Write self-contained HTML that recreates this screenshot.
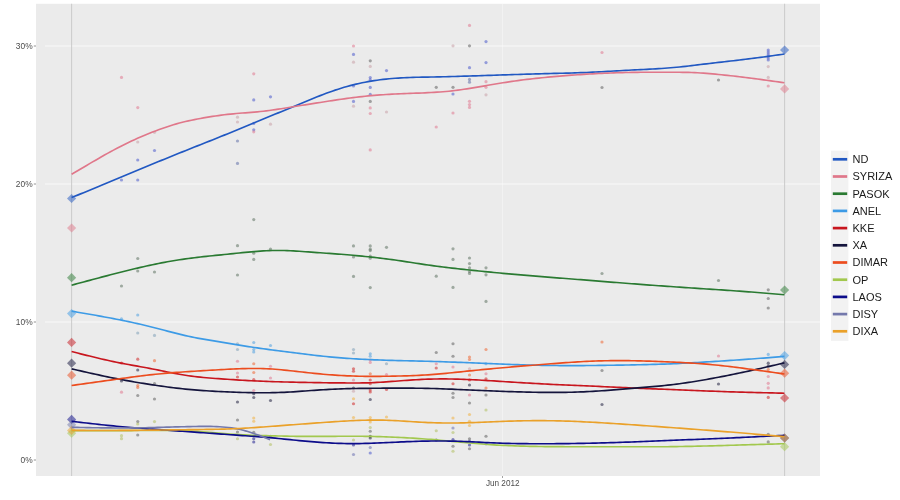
<!DOCTYPE html>
<html><head><meta charset="utf-8"><style>
html,body{margin:0;padding:0;background:#fff;width:900px;height:500px;overflow:hidden}
svg{display:block;filter:blur(0.35px);font-family:"Liberation Sans",sans-serif}
</style></head><body>
<svg width="900" height="500" viewBox="0 0 900 500">
<rect x="36" y="3.8" width="784" height="472.2" fill="#EBEBEB"/>
<line x1="45" x2="820" y1="322.0" y2="322.0" stroke="#FFFFFF" stroke-opacity="0.75" stroke-width="1"/>
<line x1="45" x2="820" y1="184.0" y2="184.0" stroke="#FFFFFF" stroke-opacity="0.75" stroke-width="1"/>
<line x1="45" x2="820" y1="46.0" y2="46.0" stroke="#FFFFFF" stroke-opacity="0.75" stroke-width="1"/>
<line x1="502.5" x2="502.5" y1="3.8" y2="476" stroke="#FFFFFF" stroke-opacity="0.35" stroke-width="1"/>
<line x1="71.6" x2="71.6" y1="3.8" y2="476" stroke="#CDCDCD" stroke-width="1.1"/>
<line x1="784.6" x2="784.6" y1="3.8" y2="476" stroke="#CDCDCD" stroke-width="1.1"/>
<g id="dots"><circle cx="121.5" cy="77.4" r="1.6" fill="#E07890" fill-opacity="0.55"/>
<circle cx="121.5" cy="180.0" r="1.6" fill="#4A5ACC" fill-opacity="0.55"/>
<circle cx="121.5" cy="286.0" r="1.6" fill="#5F7263" fill-opacity="0.55"/>
<circle cx="121.5" cy="318.9" r="1.6" fill="#50A0E0" fill-opacity="0.55"/>
<circle cx="121.5" cy="363.0" r="1.6" fill="#D02828" fill-opacity="0.55"/>
<circle cx="121.5" cy="381.0" r="1.6" fill="#202040" fill-opacity="0.55"/>
<circle cx="121.5" cy="392.2" r="1.6" fill="#E07890" fill-opacity="0.55"/>
<circle cx="121.5" cy="435.7" r="1.6" fill="#B0C060" fill-opacity="0.55"/>
<circle cx="121.5" cy="438.7" r="1.6" fill="#B0C060" fill-opacity="0.55"/>
<circle cx="137.75" cy="107.6" r="1.6" fill="#E07890" fill-opacity="0.55"/>
<circle cx="137.75" cy="142.0" r="1.6" fill="#C8A0A8" fill-opacity="0.55"/>
<circle cx="137.75" cy="160.0" r="1.6" fill="#4A5ACC" fill-opacity="0.55"/>
<circle cx="137.75" cy="180.0" r="1.6" fill="#4A5ACC" fill-opacity="0.55"/>
<circle cx="137.75" cy="258.5" r="1.6" fill="#5F7263" fill-opacity="0.55"/>
<circle cx="137.75" cy="271.0" r="1.6" fill="#5F7263" fill-opacity="0.55"/>
<circle cx="137.75" cy="315.0" r="1.6" fill="#50A0E0" fill-opacity="0.55"/>
<circle cx="137.75" cy="333.0" r="1.6" fill="#80A0B8" fill-opacity="0.55"/>
<circle cx="137.75" cy="359.2" r="1.6" fill="#D02828" fill-opacity="0.55"/>
<circle cx="137.75" cy="370.0" r="1.6" fill="#202040" fill-opacity="0.55"/>
<circle cx="137.75" cy="385.6" r="1.6" fill="#EE6633" fill-opacity="0.55"/>
<circle cx="137.75" cy="387.5" r="1.6" fill="#EE6633" fill-opacity="0.55"/>
<circle cx="137.75" cy="395.5" r="1.6" fill="#606060" fill-opacity="0.55"/>
<circle cx="137.75" cy="421.6" r="1.6" fill="#606060" fill-opacity="0.55"/>
<circle cx="137.75" cy="424.0" r="1.6" fill="#B0C060" fill-opacity="0.55"/>
<circle cx="137.75" cy="435.0" r="1.6" fill="#606060" fill-opacity="0.55"/>
<circle cx="154.5" cy="132.3" r="1.6" fill="#C8A0A8" fill-opacity="0.55"/>
<circle cx="154.5" cy="150.5" r="1.6" fill="#4A5ACC" fill-opacity="0.55"/>
<circle cx="154.5" cy="272.0" r="1.6" fill="#5F7263" fill-opacity="0.55"/>
<circle cx="154.5" cy="335.4" r="1.6" fill="#80A0B8" fill-opacity="0.55"/>
<circle cx="154.5" cy="360.7" r="1.6" fill="#EE6633" fill-opacity="0.55"/>
<circle cx="154.5" cy="383.5" r="1.6" fill="#606060" fill-opacity="0.55"/>
<circle cx="154.5" cy="399.0" r="1.6" fill="#606060" fill-opacity="0.55"/>
<circle cx="154.5" cy="421.6" r="1.6" fill="#B0C060" fill-opacity="0.55"/>
<circle cx="237.5" cy="117.2" r="1.6" fill="#C8A0A8" fill-opacity="0.55"/>
<circle cx="237.5" cy="122.0" r="1.6" fill="#C8A0A8" fill-opacity="0.55"/>
<circle cx="237.5" cy="141.0" r="1.6" fill="#6070A8" fill-opacity="0.55"/>
<circle cx="237.5" cy="163.4" r="1.6" fill="#6070A8" fill-opacity="0.55"/>
<circle cx="237.5" cy="245.7" r="1.6" fill="#5F7263" fill-opacity="0.55"/>
<circle cx="237.5" cy="275.0" r="1.6" fill="#5F7263" fill-opacity="0.55"/>
<circle cx="237.5" cy="343.75" r="1.6" fill="#80A0B8" fill-opacity="0.55"/>
<circle cx="237.5" cy="349.5" r="1.6" fill="#80A0B8" fill-opacity="0.55"/>
<circle cx="237.5" cy="361.25" r="1.6" fill="#E07890" fill-opacity="0.55"/>
<circle cx="237.5" cy="373.0" r="1.6" fill="#E07890" fill-opacity="0.55"/>
<circle cx="237.5" cy="377.0" r="1.6" fill="#D02828" fill-opacity="0.55"/>
<circle cx="237.5" cy="402.0" r="1.6" fill="#202040" fill-opacity="0.55"/>
<circle cx="237.5" cy="420.0" r="1.6" fill="#606060" fill-opacity="0.55"/>
<circle cx="237.5" cy="432.0" r="1.6" fill="#606060" fill-opacity="0.55"/>
<circle cx="237.5" cy="438.75" r="1.6" fill="#B0C060" fill-opacity="0.55"/>
<circle cx="253.75" cy="73.8" r="1.6" fill="#E07890" fill-opacity="0.55"/>
<circle cx="253.75" cy="99.9" r="1.6" fill="#4A5ACC" fill-opacity="0.55"/>
<circle cx="253.75" cy="123.4" r="1.6" fill="#4A5ACC" fill-opacity="0.55"/>
<circle cx="253.75" cy="129.8" r="1.6" fill="#4A5ACC" fill-opacity="0.55"/>
<circle cx="253.75" cy="131.8" r="1.6" fill="#E07890" fill-opacity="0.55"/>
<circle cx="253.75" cy="219.6" r="1.6" fill="#5F7263" fill-opacity="0.55"/>
<circle cx="253.75" cy="253.2" r="1.6" fill="#5F7263" fill-opacity="0.55"/>
<circle cx="253.75" cy="259.4" r="1.6" fill="#5F7263" fill-opacity="0.55"/>
<circle cx="253.75" cy="342.5" r="1.6" fill="#50A0E0" fill-opacity="0.55"/>
<circle cx="253.75" cy="349.5" r="1.6" fill="#50A0E0" fill-opacity="0.55"/>
<circle cx="253.75" cy="352.0" r="1.6" fill="#50A0E0" fill-opacity="0.55"/>
<circle cx="253.75" cy="363.75" r="1.6" fill="#EE6633" fill-opacity="0.55"/>
<circle cx="253.75" cy="372.5" r="1.6" fill="#EE6633" fill-opacity="0.55"/>
<circle cx="253.75" cy="379.5" r="1.6" fill="#D02828" fill-opacity="0.55"/>
<circle cx="253.75" cy="390.5" r="1.6" fill="#E07890" fill-opacity="0.55"/>
<circle cx="253.75" cy="393.75" r="1.6" fill="#202040" fill-opacity="0.55"/>
<circle cx="253.75" cy="397.5" r="1.6" fill="#202040" fill-opacity="0.55"/>
<circle cx="253.75" cy="418.0" r="1.6" fill="#F0B040" fill-opacity="0.55"/>
<circle cx="253.75" cy="421.25" r="1.6" fill="#F0B040" fill-opacity="0.55"/>
<circle cx="253.75" cy="432.25" r="1.6" fill="#606060" fill-opacity="0.55"/>
<circle cx="253.75" cy="438.75" r="1.6" fill="#202090" fill-opacity="0.55"/>
<circle cx="253.75" cy="442.0" r="1.6" fill="#202090" fill-opacity="0.55"/>
<circle cx="270.5" cy="96.8" r="1.6" fill="#4A5ACC" fill-opacity="0.55"/>
<circle cx="270.5" cy="124.2" r="1.6" fill="#C8A0A8" fill-opacity="0.55"/>
<circle cx="270.5" cy="249.0" r="1.6" fill="#5F7263" fill-opacity="0.55"/>
<circle cx="270.5" cy="345.5" r="1.6" fill="#50A0E0" fill-opacity="0.55"/>
<circle cx="270.5" cy="366.25" r="1.6" fill="#E07890" fill-opacity="0.55"/>
<circle cx="270.5" cy="378.0" r="1.6" fill="#E07890" fill-opacity="0.55"/>
<circle cx="270.5" cy="400.5" r="1.6" fill="#202040" fill-opacity="0.55"/>
<circle cx="270.5" cy="436.25" r="1.6" fill="#606060" fill-opacity="0.55"/>
<circle cx="270.5" cy="444.5" r="1.6" fill="#B0C060" fill-opacity="0.55"/>
<circle cx="353.5" cy="46.0" r="1.6" fill="#E07890" fill-opacity="0.55"/>
<circle cx="353.5" cy="54.4" r="1.6" fill="#4A5ACC" fill-opacity="0.55"/>
<circle cx="353.5" cy="62.2" r="1.6" fill="#C8A0A8" fill-opacity="0.55"/>
<circle cx="353.5" cy="86.0" r="1.6" fill="#4A5ACC" fill-opacity="0.55"/>
<circle cx="353.5" cy="101.4" r="1.6" fill="#4A5ACC" fill-opacity="0.55"/>
<circle cx="353.5" cy="106.2" r="1.6" fill="#C8A0A8" fill-opacity="0.55"/>
<circle cx="353.5" cy="245.9" r="1.6" fill="#5F7263" fill-opacity="0.55"/>
<circle cx="353.5" cy="257.0" r="1.6" fill="#5F7263" fill-opacity="0.55"/>
<circle cx="353.5" cy="276.4" r="1.6" fill="#5F7263" fill-opacity="0.55"/>
<circle cx="353.5" cy="349.5" r="1.6" fill="#80A0B8" fill-opacity="0.55"/>
<circle cx="353.5" cy="353.0" r="1.6" fill="#80A0B8" fill-opacity="0.55"/>
<circle cx="353.5" cy="368.75" r="1.6" fill="#D02828" fill-opacity="0.55"/>
<circle cx="353.5" cy="371.25" r="1.6" fill="#D02828" fill-opacity="0.55"/>
<circle cx="353.5" cy="380.0" r="1.6" fill="#E07890" fill-opacity="0.55"/>
<circle cx="353.5" cy="388.0" r="1.6" fill="#202040" fill-opacity="0.55"/>
<circle cx="353.5" cy="391.25" r="1.6" fill="#C8A0A8" fill-opacity="0.55"/>
<circle cx="353.5" cy="398.75" r="1.6" fill="#F0B040" fill-opacity="0.55"/>
<circle cx="353.5" cy="403.75" r="1.6" fill="#D02828" fill-opacity="0.55"/>
<circle cx="353.5" cy="417.5" r="1.6" fill="#F0B040" fill-opacity="0.55"/>
<circle cx="353.5" cy="440.0" r="1.6" fill="#B0C060" fill-opacity="0.55"/>
<circle cx="353.5" cy="445.0" r="1.6" fill="#202090" fill-opacity="0.55"/>
<circle cx="353.5" cy="454.5" r="1.6" fill="#6A70B0" fill-opacity="0.55"/>
<circle cx="370.25" cy="60.8" r="1.6" fill="#606060" fill-opacity="0.55"/>
<circle cx="370.25" cy="66.4" r="1.6" fill="#C8A0A8" fill-opacity="0.55"/>
<circle cx="370.25" cy="77.6" r="1.6" fill="#4A5ACC" fill-opacity="0.55"/>
<circle cx="370.25" cy="79.9" r="1.6" fill="#4A5ACC" fill-opacity="0.55"/>
<circle cx="370.25" cy="87.4" r="1.6" fill="#4A5ACC" fill-opacity="0.55"/>
<circle cx="370.25" cy="94.4" r="1.6" fill="#4A5ACC" fill-opacity="0.55"/>
<circle cx="370.25" cy="101.4" r="1.6" fill="#606060" fill-opacity="0.55"/>
<circle cx="370.25" cy="107.9" r="1.6" fill="#E07890" fill-opacity="0.55"/>
<circle cx="370.25" cy="113.5" r="1.6" fill="#E07890" fill-opacity="0.55"/>
<circle cx="370.25" cy="149.9" r="1.6" fill="#E07890" fill-opacity="0.55"/>
<circle cx="370.25" cy="245.9" r="1.6" fill="#5F7263" fill-opacity="0.55"/>
<circle cx="370.25" cy="249.2" r="1.6" fill="#5F7263" fill-opacity="0.55"/>
<circle cx="370.25" cy="250.6" r="1.6" fill="#5F7263" fill-opacity="0.55"/>
<circle cx="370.25" cy="256.2" r="1.6" fill="#5F7263" fill-opacity="0.55"/>
<circle cx="370.25" cy="258.2" r="1.6" fill="#5F7263" fill-opacity="0.55"/>
<circle cx="370.25" cy="287.6" r="1.6" fill="#5F7263" fill-opacity="0.55"/>
<circle cx="370.25" cy="353.75" r="1.6" fill="#50A0E0" fill-opacity="0.55"/>
<circle cx="370.25" cy="356.25" r="1.6" fill="#50A0E0" fill-opacity="0.55"/>
<circle cx="370.25" cy="360.0" r="1.6" fill="#E07890" fill-opacity="0.55"/>
<circle cx="370.25" cy="362.5" r="1.6" fill="#E07890" fill-opacity="0.55"/>
<circle cx="370.25" cy="373.75" r="1.6" fill="#EE6633" fill-opacity="0.55"/>
<circle cx="370.25" cy="380.0" r="1.6" fill="#D02828" fill-opacity="0.55"/>
<circle cx="370.25" cy="383.75" r="1.6" fill="#D02828" fill-opacity="0.55"/>
<circle cx="370.25" cy="390.0" r="1.6" fill="#D02828" fill-opacity="0.55"/>
<circle cx="370.25" cy="392.0" r="1.6" fill="#D02828" fill-opacity="0.55"/>
<circle cx="370.25" cy="399.5" r="1.6" fill="#202040" fill-opacity="0.55"/>
<circle cx="370.25" cy="417.5" r="1.6" fill="#F0B040" fill-opacity="0.55"/>
<circle cx="370.25" cy="420.0" r="1.6" fill="#F0B040" fill-opacity="0.55"/>
<circle cx="370.25" cy="422.0" r="1.6" fill="#F0B040" fill-opacity="0.55"/>
<circle cx="370.25" cy="427.5" r="1.6" fill="#B0C060" fill-opacity="0.55"/>
<circle cx="370.25" cy="431.25" r="1.6" fill="#606060" fill-opacity="0.55"/>
<circle cx="370.25" cy="436.25" r="1.6" fill="#202040" fill-opacity="0.55"/>
<circle cx="370.25" cy="438.0" r="1.6" fill="#202040" fill-opacity="0.55"/>
<circle cx="370.25" cy="447.5" r="1.6" fill="#6A70B0" fill-opacity="0.55"/>
<circle cx="370.25" cy="453.0" r="1.6" fill="#4A5ACC" fill-opacity="0.55"/>
<circle cx="386.5" cy="70.6" r="1.6" fill="#4A5ACC" fill-opacity="0.55"/>
<circle cx="386.5" cy="112.0" r="1.6" fill="#C8A0A8" fill-opacity="0.55"/>
<circle cx="386.5" cy="247.3" r="1.6" fill="#5F7263" fill-opacity="0.55"/>
<circle cx="386.5" cy="363.75" r="1.6" fill="#80A0B8" fill-opacity="0.55"/>
<circle cx="386.5" cy="374.5" r="1.6" fill="#E07890" fill-opacity="0.55"/>
<circle cx="386.5" cy="389.5" r="1.6" fill="#D02828" fill-opacity="0.55"/>
<circle cx="386.5" cy="417.0" r="1.6" fill="#F0B040" fill-opacity="0.55"/>
<circle cx="436.25" cy="87.3" r="1.6" fill="#606060" fill-opacity="0.55"/>
<circle cx="436.25" cy="127.0" r="1.6" fill="#E07890" fill-opacity="0.55"/>
<circle cx="436.25" cy="276.2" r="1.6" fill="#5F7263" fill-opacity="0.55"/>
<circle cx="436.25" cy="352.5" r="1.6" fill="#606060" fill-opacity="0.55"/>
<circle cx="436.25" cy="363.75" r="1.6" fill="#E07890" fill-opacity="0.55"/>
<circle cx="436.25" cy="368.0" r="1.6" fill="#D02828" fill-opacity="0.55"/>
<circle cx="436.25" cy="430.75" r="1.6" fill="#B0C060" fill-opacity="0.55"/>
<circle cx="436.25" cy="440.0" r="1.6" fill="#202040" fill-opacity="0.55"/>
<circle cx="453.0" cy="45.8" r="1.6" fill="#C8A0A8" fill-opacity="0.55"/>
<circle cx="453.0" cy="87.3" r="1.6" fill="#606060" fill-opacity="0.55"/>
<circle cx="453.0" cy="94.0" r="1.6" fill="#4A5ACC" fill-opacity="0.55"/>
<circle cx="453.0" cy="113.0" r="1.6" fill="#E07890" fill-opacity="0.55"/>
<circle cx="453.0" cy="248.8" r="1.6" fill="#5F7263" fill-opacity="0.55"/>
<circle cx="453.0" cy="259.4" r="1.6" fill="#5F7263" fill-opacity="0.55"/>
<circle cx="453.0" cy="287.4" r="1.6" fill="#5F7263" fill-opacity="0.55"/>
<circle cx="453.0" cy="343.75" r="1.6" fill="#606060" fill-opacity="0.55"/>
<circle cx="453.0" cy="356.25" r="1.6" fill="#606060" fill-opacity="0.55"/>
<circle cx="453.0" cy="367.0" r="1.6" fill="#E07890" fill-opacity="0.55"/>
<circle cx="453.0" cy="383.75" r="1.6" fill="#D02828" fill-opacity="0.55"/>
<circle cx="453.0" cy="393.25" r="1.6" fill="#606060" fill-opacity="0.55"/>
<circle cx="453.0" cy="397.5" r="1.6" fill="#606060" fill-opacity="0.55"/>
<circle cx="453.0" cy="418.0" r="1.6" fill="#F0B040" fill-opacity="0.55"/>
<circle cx="453.0" cy="428.0" r="1.6" fill="#6A70B0" fill-opacity="0.55"/>
<circle cx="453.0" cy="432.5" r="1.6" fill="#B0C060" fill-opacity="0.55"/>
<circle cx="453.0" cy="439.5" r="1.6" fill="#202090" fill-opacity="0.55"/>
<circle cx="453.0" cy="446.25" r="1.6" fill="#606060" fill-opacity="0.55"/>
<circle cx="453.0" cy="451.25" r="1.6" fill="#B0C060" fill-opacity="0.55"/>
<circle cx="469.5" cy="25.4" r="1.6" fill="#E07890" fill-opacity="0.55"/>
<circle cx="469.5" cy="45.8" r="1.6" fill="#606060" fill-opacity="0.55"/>
<circle cx="469.5" cy="67.7" r="1.6" fill="#4A5ACC" fill-opacity="0.55"/>
<circle cx="469.5" cy="79.4" r="1.6" fill="#6070A8" fill-opacity="0.55"/>
<circle cx="469.5" cy="82.2" r="1.6" fill="#6070A8" fill-opacity="0.55"/>
<circle cx="469.5" cy="101.3" r="1.6" fill="#E07890" fill-opacity="0.55"/>
<circle cx="469.5" cy="104.6" r="1.6" fill="#E07890" fill-opacity="0.55"/>
<circle cx="469.5" cy="107.4" r="1.6" fill="#E07890" fill-opacity="0.55"/>
<circle cx="469.5" cy="258.0" r="1.6" fill="#5F7263" fill-opacity="0.55"/>
<circle cx="469.5" cy="263.6" r="1.6" fill="#5F7263" fill-opacity="0.55"/>
<circle cx="469.5" cy="267.8" r="1.6" fill="#5F7263" fill-opacity="0.55"/>
<circle cx="469.5" cy="271.5" r="1.6" fill="#5F7263" fill-opacity="0.55"/>
<circle cx="469.5" cy="273.4" r="1.6" fill="#5F7263" fill-opacity="0.55"/>
<circle cx="469.5" cy="357.0" r="1.6" fill="#EE6633" fill-opacity="0.55"/>
<circle cx="469.5" cy="359.5" r="1.6" fill="#EE6633" fill-opacity="0.55"/>
<circle cx="469.5" cy="368.75" r="1.6" fill="#C8A0A8" fill-opacity="0.55"/>
<circle cx="469.5" cy="375.0" r="1.6" fill="#EE6633" fill-opacity="0.55"/>
<circle cx="469.5" cy="380.0" r="1.6" fill="#D02828" fill-opacity="0.55"/>
<circle cx="469.5" cy="385.0" r="1.6" fill="#202040" fill-opacity="0.55"/>
<circle cx="469.5" cy="395.0" r="1.6" fill="#E07890" fill-opacity="0.55"/>
<circle cx="469.5" cy="403.0" r="1.6" fill="#606060" fill-opacity="0.55"/>
<circle cx="469.5" cy="414.5" r="1.6" fill="#F0B040" fill-opacity="0.55"/>
<circle cx="469.5" cy="421.25" r="1.6" fill="#F0B040" fill-opacity="0.55"/>
<circle cx="469.5" cy="425.5" r="1.6" fill="#F0B040" fill-opacity="0.55"/>
<circle cx="469.5" cy="438.75" r="1.6" fill="#606060" fill-opacity="0.55"/>
<circle cx="469.5" cy="441.25" r="1.6" fill="#202090" fill-opacity="0.55"/>
<circle cx="469.5" cy="445.0" r="1.6" fill="#202090" fill-opacity="0.55"/>
<circle cx="469.5" cy="448.75" r="1.6" fill="#606060" fill-opacity="0.55"/>
<circle cx="486.0" cy="41.6" r="1.6" fill="#4A5ACC" fill-opacity="0.55"/>
<circle cx="486.0" cy="62.6" r="1.6" fill="#4A5ACC" fill-opacity="0.55"/>
<circle cx="486.0" cy="81.7" r="1.6" fill="#E07890" fill-opacity="0.55"/>
<circle cx="486.0" cy="87.3" r="1.6" fill="#E07890" fill-opacity="0.55"/>
<circle cx="486.0" cy="94.8" r="1.6" fill="#C8A0A8" fill-opacity="0.55"/>
<circle cx="486.0" cy="267.8" r="1.6" fill="#5F7263" fill-opacity="0.55"/>
<circle cx="486.0" cy="274.8" r="1.6" fill="#5F7263" fill-opacity="0.55"/>
<circle cx="486.0" cy="301.4" r="1.6" fill="#5F7263" fill-opacity="0.55"/>
<circle cx="486.0" cy="349.5" r="1.6" fill="#EE6633" fill-opacity="0.55"/>
<circle cx="486.0" cy="363.75" r="1.6" fill="#50A0E0" fill-opacity="0.55"/>
<circle cx="486.0" cy="373.75" r="1.6" fill="#E07890" fill-opacity="0.55"/>
<circle cx="486.0" cy="378.75" r="1.6" fill="#D02828" fill-opacity="0.55"/>
<circle cx="486.0" cy="388.0" r="1.6" fill="#EE6633" fill-opacity="0.55"/>
<circle cx="486.0" cy="395.0" r="1.6" fill="#606060" fill-opacity="0.55"/>
<circle cx="486.0" cy="410.0" r="1.6" fill="#B0C060" fill-opacity="0.55"/>
<circle cx="486.0" cy="436.25" r="1.6" fill="#606060" fill-opacity="0.55"/>
<circle cx="486.0" cy="443.75" r="1.6" fill="#202090" fill-opacity="0.55"/>
<circle cx="602.0" cy="52.5" r="1.6" fill="#E07890" fill-opacity="0.55"/>
<circle cx="602.0" cy="87.5" r="1.6" fill="#606060" fill-opacity="0.55"/>
<circle cx="602.0" cy="273.5" r="1.6" fill="#5F7263" fill-opacity="0.55"/>
<circle cx="602.0" cy="342.0" r="1.6" fill="#EE6633" fill-opacity="0.55"/>
<circle cx="602.0" cy="370.5" r="1.6" fill="#606060" fill-opacity="0.55"/>
<circle cx="602.0" cy="404.5" r="1.6" fill="#202040" fill-opacity="0.55"/>
<circle cx="718.5" cy="80.0" r="1.6" fill="#606060" fill-opacity="0.55"/>
<circle cx="718.5" cy="280.5" r="1.6" fill="#5F7263" fill-opacity="0.55"/>
<circle cx="718.5" cy="356.0" r="1.6" fill="#E07890" fill-opacity="0.55"/>
<circle cx="718.5" cy="384.0" r="1.6" fill="#202040" fill-opacity="0.55"/>
<circle cx="768.25" cy="50.0" r="1.6" fill="#4A5ACC" fill-opacity="0.55"/>
<circle cx="768.25" cy="52.0" r="1.6" fill="#4A5ACC" fill-opacity="0.55"/>
<circle cx="768.25" cy="54.0" r="1.6" fill="#4A5ACC" fill-opacity="0.55"/>
<circle cx="768.25" cy="56.0" r="1.6" fill="#4A5ACC" fill-opacity="0.55"/>
<circle cx="768.25" cy="58.0" r="1.6" fill="#4A5ACC" fill-opacity="0.55"/>
<circle cx="768.25" cy="60.0" r="1.6" fill="#4A5ACC" fill-opacity="0.55"/>
<circle cx="768.25" cy="66.6" r="1.6" fill="#C8A0A8" fill-opacity="0.55"/>
<circle cx="768.25" cy="77.4" r="1.6" fill="#C8A0A8" fill-opacity="0.55"/>
<circle cx="768.25" cy="86.0" r="1.6" fill="#E07890" fill-opacity="0.55"/>
<circle cx="768.25" cy="289.8" r="1.6" fill="#606060" fill-opacity="0.55"/>
<circle cx="768.25" cy="298.5" r="1.6" fill="#606060" fill-opacity="0.55"/>
<circle cx="768.25" cy="308.0" r="1.6" fill="#606060" fill-opacity="0.55"/>
<circle cx="768.25" cy="354.4" r="1.6" fill="#50A0E0" fill-opacity="0.55"/>
<circle cx="768.25" cy="363.2" r="1.6" fill="#202040" fill-opacity="0.55"/>
<circle cx="768.25" cy="366.0" r="1.6" fill="#202040" fill-opacity="0.55"/>
<circle cx="768.25" cy="369.6" r="1.6" fill="#EE6633" fill-opacity="0.55"/>
<circle cx="768.25" cy="376.5" r="1.6" fill="#E07890" fill-opacity="0.55"/>
<circle cx="768.25" cy="383.3" r="1.6" fill="#E07890" fill-opacity="0.55"/>
<circle cx="768.25" cy="387.9" r="1.6" fill="#E07890" fill-opacity="0.55"/>
<circle cx="768.25" cy="397.4" r="1.6" fill="#D02828" fill-opacity="0.55"/>
<circle cx="768.25" cy="434.3" r="1.6" fill="#606060" fill-opacity="0.55"/>
<circle cx="768.25" cy="441.9" r="1.6" fill="#606060" fill-opacity="0.55"/></g>
<path d="M71.6,193.9 L76.19999999999999,198.5 L71.6,203.1 L67.0,198.5 Z" fill="#2158C2" fill-opacity="0.5"/>
<path d="M784.6,45.4 L789.2,50 L784.6,54.6 L780.0,50 Z" fill="#2158C2" fill-opacity="0.5"/>
<path d="M71.6,223.4 L76.19999999999999,228 L71.6,232.6 L67.0,228 Z" fill="#E0778A" fill-opacity="0.5"/>
<path d="M784.6,84.30000000000001 L789.2,88.9 L784.6,93.5 L780.0,88.9 Z" fill="#E0778A" fill-opacity="0.5"/>
<path d="M71.6,273.09999999999997 L76.19999999999999,277.7 L71.6,282.3 L67.0,277.7 Z" fill="#2A7A32" fill-opacity="0.5"/>
<path d="M784.6,285.4 L789.2,290 L784.6,294.6 L780.0,290 Z" fill="#2A7A32" fill-opacity="0.5"/>
<path d="M71.6,309.0 L76.19999999999999,313.6 L71.6,318.20000000000005 L67.0,313.6 Z" fill="#3D9BE6" fill-opacity="0.5"/>
<path d="M784.6,351.0 L789.2,355.6 L784.6,360.20000000000005 L780.0,355.6 Z" fill="#3D9BE6" fill-opacity="0.5"/>
<path d="M71.6,337.79999999999995 L76.19999999999999,342.4 L71.6,347.0 L67.0,342.4 Z" fill="#C8161E" fill-opacity="0.5"/>
<path d="M784.6,393.4 L789.2,398 L784.6,402.6 L780.0,398 Z" fill="#C8161E" fill-opacity="0.5"/>
<path d="M71.6,358.59999999999997 L76.19999999999999,363.2 L71.6,367.8 L67.0,363.2 Z" fill="#14143C" fill-opacity="0.5"/>
<path d="M784.6,359.79999999999995 L789.2,364.4 L784.6,369.0 L780.0,364.4 Z" fill="#14143C" fill-opacity="0.5"/>
<path d="M71.6,370.59999999999997 L76.19999999999999,375.2 L71.6,379.8 L67.0,375.2 Z" fill="#EC4C1E" fill-opacity="0.5"/>
<path d="M784.6,368.59999999999997 L789.2,373.2 L784.6,377.8 L780.0,373.2 Z" fill="#EC4C1E" fill-opacity="0.5"/>
<path d="M71.6,428.59999999999997 L76.19999999999999,433.2 L71.6,437.8 L67.0,433.2 Z" fill="#A2C84E" fill-opacity="0.5"/>
<path d="M784.6,442.09999999999997 L789.2,446.7 L784.6,451.3 L780.0,446.7 Z" fill="#A2C84E" fill-opacity="0.5"/>
<path d="M71.6,414.79999999999995 L76.19999999999999,419.4 L71.6,424.0 L67.0,419.4 Z" fill="#0C0C8A" fill-opacity="0.5"/>
<path d="M784.6,433.4 L789.2,438 L784.6,442.6 L780.0,438 Z" fill="#0C0C8A" fill-opacity="0.5"/>
<path d="M71.6,420.2 L76.19999999999999,424.8 L71.6,429.40000000000003 L67.0,424.8 Z" fill="#7479AC" fill-opacity="0.5"/>
<path d="M71.6,425.79999999999995 L76.19999999999999,430.4 L71.6,435.0 L67.0,430.4 Z" fill="#EAA12A" fill-opacity="0.5"/>
<path d="M784.6,433.4 L789.2,438 L784.6,442.6 L780.0,438 Z" fill="#EAA12A" fill-opacity="0.5"/>
<path d="M71.6,197.60 L74.6,196.36 L77.6,195.12 L80.6,193.88 L83.6,192.64 L86.6,191.40 L89.6,190.16 L92.6,188.91 L95.6,187.67 L98.6,186.43 L101.5,185.19 L104.5,183.95 L107.5,182.71 L110.5,181.47 L113.5,180.22 L116.5,178.98 L119.5,177.74 L122.5,176.49 L125.5,175.25 L128.5,174.01 L131.5,172.76 L134.5,171.52 L137.5,170.28 L140.5,169.03 L143.5,167.79 L146.5,166.55 L149.5,165.31 L152.5,164.07 L155.5,162.84 L158.5,161.60 L161.4,160.37 L164.4,159.15 L167.4,157.92 L170.4,156.71 L173.4,155.49 L176.4,154.28 L179.4,153.07 L182.4,151.86 L185.4,150.66 L188.4,149.46 L191.4,148.26 L194.4,147.06 L197.4,145.87 L200.4,144.68 L203.4,143.49 L206.4,142.30 L209.4,141.11 L212.4,139.92 L215.4,138.72 L218.4,137.53 L221.3,136.33 L224.3,135.12 L227.3,133.91 L230.3,132.69 L233.3,131.46 L236.3,130.22 L239.3,128.98 L242.3,127.72 L245.3,126.46 L248.3,125.19 L251.3,123.93 L254.3,122.68 L257.3,121.43 L260.3,120.19 L263.3,118.96 L266.3,117.74 L269.3,116.52 L272.3,115.31 L275.3,114.10 L278.3,112.89 L281.2,111.68 L284.2,110.46 L287.2,109.24 L290.2,108.02 L293.2,106.79 L296.2,105.55 L299.2,104.31 L302.2,103.06 L305.2,101.80 L308.2,100.54 L311.2,99.29 L314.2,98.05 L317.2,96.83 L320.2,95.63 L323.2,94.46 L326.2,93.33 L329.2,92.23 L332.2,91.17 L335.2,90.15 L338.2,89.17 L341.1,88.23 L344.1,87.33 L347.1,86.47 L350.1,85.65 L353.1,84.87 L356.1,84.14 L359.1,83.45 L362.1,82.80 L365.1,82.20 L368.1,81.63 L371.1,81.12 L374.1,80.64 L377.1,80.20 L380.1,79.80 L383.1,79.44 L386.1,79.11 L389.1,78.80 L392.1,78.53 L395.1,78.28 L398.1,78.07 L401.0,77.88 L404.0,77.71 L407.0,77.58 L410.0,77.46 L413.0,77.37 L416.0,77.29 L419.0,77.23 L422.0,77.18 L425.0,77.13 L428.0,77.08 L431.0,77.03 L434.0,76.97 L437.0,76.91 L440.0,76.84 L443.0,76.78 L446.0,76.70 L449.0,76.62 L452.0,76.54 L455.0,76.46 L457.9,76.37 L460.9,76.29 L463.9,76.19 L466.9,76.10 L469.9,76.01 L472.9,75.91 L475.9,75.82 L478.9,75.72 L481.9,75.62 L484.9,75.52 L487.9,75.43 L490.9,75.33 L493.9,75.23 L496.9,75.13 L499.9,75.03 L502.9,74.93 L505.9,74.84 L508.9,74.74 L511.9,74.64 L514.9,74.55 L517.8,74.46 L520.8,74.36 L523.8,74.27 L526.8,74.18 L529.8,74.09 L532.8,74.01 L535.8,73.92 L538.8,73.84 L541.8,73.75 L544.8,73.67 L547.8,73.59 L550.8,73.52 L553.8,73.44 L556.8,73.37 L559.8,73.29 L562.8,73.22 L565.8,73.14 L568.8,73.06 L571.8,72.97 L574.8,72.88 L577.7,72.79 L580.7,72.68 L583.7,72.57 L586.7,72.46 L589.7,72.33 L592.7,72.19 L595.7,72.04 L598.7,71.89 L601.7,71.73 L604.7,71.56 L607.7,71.39 L610.7,71.22 L613.7,71.04 L616.7,70.87 L619.7,70.70 L622.7,70.53 L625.7,70.36 L628.7,70.20 L631.7,70.04 L634.7,69.89 L637.6,69.75 L640.6,69.61 L643.6,69.46 L646.6,69.31 L649.6,69.16 L652.6,69.01 L655.6,68.84 L658.6,68.66 L661.6,68.47 L664.6,68.26 L667.6,68.04 L670.6,67.80 L673.6,67.53 L676.6,67.25 L679.6,66.95 L682.6,66.64 L685.6,66.31 L688.6,65.97 L691.6,65.63 L694.6,65.27 L697.5,64.91 L700.5,64.55 L703.5,64.19 L706.5,63.83 L709.5,63.47 L712.5,63.12 L715.5,62.77 L718.5,62.42 L721.5,62.08 L724.5,61.74 L727.5,61.40 L730.5,61.05 L733.5,60.71 L736.5,60.36 L739.5,60.01 L742.5,59.66 L745.5,59.29 L748.5,58.93 L751.5,58.55 L754.5,58.16 L757.4,57.77 L760.4,57.37 L763.4,56.97 L766.4,56.56 L769.4,56.14 L772.4,55.72 L775.4,55.30 L778.4,54.88 L781.4,54.45 L784.4,54.03" fill="none" stroke="#2158C2" stroke-width="1.65" stroke-linecap="butt" stroke-linejoin="round"/>
<path d="M71.6,174.33 L74.6,172.54 L77.6,170.75 L80.6,168.97 L83.6,167.19 L86.6,165.42 L89.6,163.66 L92.6,161.91 L95.6,160.17 L98.6,158.45 L101.5,156.74 L104.5,155.06 L107.5,153.39 L110.5,151.75 L113.5,150.13 L116.5,148.54 L119.5,146.98 L122.5,145.44 L125.5,143.94 L128.5,142.47 L131.5,141.04 L134.5,139.65 L137.5,138.29 L140.5,136.97 L143.5,135.70 L146.5,134.46 L149.5,133.26 L152.5,132.10 L155.5,130.96 L158.5,129.85 L161.4,128.76 L164.4,127.71 L167.4,126.69 L170.4,125.71 L173.4,124.78 L176.4,123.90 L179.4,123.07 L182.4,122.29 L185.4,121.56 L188.4,120.86 L191.4,120.21 L194.4,119.59 L197.4,119.00 L200.4,118.44 L203.4,117.90 L206.4,117.39 L209.4,116.91 L212.4,116.43 L215.4,115.98 L218.4,115.56 L221.3,115.15 L224.3,114.77 L227.3,114.43 L230.3,114.11 L233.3,113.81 L236.3,113.54 L239.3,113.29 L242.3,113.05 L245.3,112.82 L248.3,112.60 L251.3,112.36 L254.3,112.11 L257.3,111.84 L260.3,111.53 L263.3,111.20 L266.3,110.84 L269.3,110.45 L272.3,110.04 L275.3,109.61 L278.3,109.15 L281.2,108.69 L284.2,108.21 L287.2,107.73 L290.2,107.24 L293.2,106.75 L296.2,106.26 L299.2,105.78 L302.2,105.30 L305.2,104.82 L308.2,104.35 L311.2,103.87 L314.2,103.40 L317.2,102.92 L320.2,102.44 L323.2,101.97 L326.2,101.50 L329.2,101.04 L332.2,100.58 L335.2,100.13 L338.2,99.69 L341.1,99.26 L344.1,98.84 L347.1,98.43 L350.1,98.03 L353.1,97.64 L356.1,97.26 L359.1,96.90 L362.1,96.56 L365.1,96.23 L368.1,95.92 L371.1,95.64 L374.1,95.38 L377.1,95.13 L380.1,94.91 L383.1,94.71 L386.1,94.52 L389.1,94.34 L392.1,94.18 L395.1,94.03 L398.1,93.89 L401.0,93.76 L404.0,93.63 L407.0,93.52 L410.0,93.41 L413.0,93.30 L416.0,93.19 L419.0,93.07 L422.0,92.96 L425.0,92.83 L428.0,92.69 L431.0,92.54 L434.0,92.37 L437.0,92.19 L440.0,91.98 L443.0,91.75 L446.0,91.49 L449.0,91.21 L452.0,90.89 L455.0,90.54 L457.9,90.16 L460.9,89.74 L463.9,89.30 L466.9,88.84 L469.9,88.36 L472.9,87.87 L475.9,87.37 L478.9,86.86 L481.9,86.34 L484.9,85.82 L487.9,85.30 L490.9,84.79 L493.9,84.28 L496.9,83.78 L499.9,83.28 L502.9,82.80 L505.9,82.32 L508.9,81.86 L511.9,81.42 L514.9,80.99 L517.8,80.58 L520.8,80.18 L523.8,79.80 L526.8,79.43 L529.8,79.08 L532.8,78.73 L535.8,78.40 L538.8,78.08 L541.8,77.77 L544.8,77.48 L547.8,77.19 L550.8,76.91 L553.8,76.64 L556.8,76.37 L559.8,76.12 L562.8,75.87 L565.8,75.63 L568.8,75.40 L571.8,75.18 L574.8,74.96 L577.7,74.76 L580.7,74.56 L583.7,74.37 L586.7,74.18 L589.7,74.01 L592.7,73.84 L595.7,73.68 L598.7,73.53 L601.7,73.38 L604.7,73.24 L607.7,73.11 L610.7,72.99 L613.7,72.88 L616.7,72.78 L619.7,72.69 L622.7,72.60 L625.7,72.52 L628.7,72.46 L631.7,72.40 L634.7,72.35 L637.6,72.31 L640.6,72.28 L643.6,72.26 L646.6,72.24 L649.6,72.23 L652.6,72.22 L655.6,72.21 L658.6,72.21 L661.6,72.22 L664.6,72.22 L667.6,72.23 L670.6,72.24 L673.6,72.25 L676.6,72.26 L679.6,72.29 L682.6,72.32 L685.6,72.37 L688.6,72.44 L691.6,72.53 L694.6,72.66 L697.5,72.80 L700.5,72.98 L703.5,73.18 L706.5,73.40 L709.5,73.65 L712.5,73.90 L715.5,74.18 L718.5,74.46 L721.5,74.76 L724.5,75.06 L727.5,75.38 L730.5,75.70 L733.5,76.03 L736.5,76.37 L739.5,76.72 L742.5,77.08 L745.5,77.45 L748.5,77.82 L751.5,78.21 L754.5,78.60 L757.4,79.00 L760.4,79.40 L763.4,79.81 L766.4,80.22 L769.4,80.64 L772.4,81.06 L775.4,81.49 L778.4,81.92 L781.4,82.35 L784.4,82.77" fill="none" stroke="#E0778A" stroke-width="1.65" stroke-linecap="butt" stroke-linejoin="round"/>
<path d="M71.6,285.19 L74.6,284.38 L77.6,283.57 L80.6,282.76 L83.6,281.95 L86.6,281.15 L89.6,280.34 L92.6,279.54 L95.6,278.74 L98.6,277.95 L101.5,277.15 L104.5,276.36 L107.5,275.58 L110.5,274.80 L113.5,274.03 L116.5,273.26 L119.5,272.49 L122.5,271.74 L125.5,270.99 L128.5,270.25 L131.5,269.51 L134.5,268.79 L137.5,268.08 L140.5,267.38 L143.5,266.70 L146.5,266.02 L149.5,265.37 L152.5,264.72 L155.5,264.10 L158.5,263.49 L161.4,262.90 L164.4,262.33 L167.4,261.78 L170.4,261.25 L173.4,260.74 L176.4,260.25 L179.4,259.78 L182.4,259.33 L185.4,258.90 L188.4,258.49 L191.4,258.09 L194.4,257.72 L197.4,257.36 L200.4,257.02 L203.4,256.69 L206.4,256.36 L209.4,256.05 L212.4,255.74 L215.4,255.43 L218.4,255.13 L221.3,254.82 L224.3,254.51 L227.3,254.20 L230.3,253.89 L233.3,253.58 L236.3,253.27 L239.3,252.96 L242.3,252.67 L245.3,252.38 L248.3,252.10 L251.3,251.83 L254.3,251.57 L257.3,251.33 L260.3,251.11 L263.3,250.92 L266.3,250.75 L269.3,250.62 L272.3,250.52 L275.3,250.46 L278.3,250.45 L281.2,250.47 L284.2,250.52 L287.2,250.61 L290.2,250.74 L293.2,250.90 L296.2,251.08 L299.2,251.27 L302.2,251.49 L305.2,251.71 L308.2,251.93 L311.2,252.15 L314.2,252.37 L317.2,252.58 L320.2,252.79 L323.2,253.00 L326.2,253.21 L329.2,253.42 L332.2,253.63 L335.2,253.85 L338.2,254.07 L341.1,254.30 L344.1,254.54 L347.1,254.78 L350.1,255.04 L353.1,255.30 L356.1,255.58 L359.1,255.87 L362.1,256.17 L365.1,256.47 L368.1,256.79 L371.1,257.11 L374.1,257.44 L377.1,257.77 L380.1,258.12 L383.1,258.47 L386.1,258.84 L389.1,259.23 L392.1,259.63 L395.1,260.05 L398.1,260.47 L401.0,260.92 L404.0,261.37 L407.0,261.82 L410.0,262.28 L413.0,262.74 L416.0,263.20 L419.0,263.66 L422.0,264.12 L425.0,264.56 L428.0,265.00 L431.0,265.42 L434.0,265.83 L437.0,266.23 L440.0,266.62 L443.0,266.99 L446.0,267.36 L449.0,267.72 L452.0,268.06 L455.0,268.41 L457.9,268.74 L460.9,269.07 L463.9,269.39 L466.9,269.71 L469.9,270.03 L472.9,270.34 L475.9,270.66 L478.9,270.97 L481.9,271.27 L484.9,271.58 L487.9,271.88 L490.9,272.17 L493.9,272.47 L496.9,272.76 L499.9,273.05 L502.9,273.33 L505.9,273.61 L508.9,273.88 L511.9,274.15 L514.9,274.42 L517.8,274.68 L520.8,274.94 L523.8,275.19 L526.8,275.44 L529.8,275.69 L532.8,275.94 L535.8,276.18 L538.8,276.42 L541.8,276.66 L544.8,276.90 L547.8,277.13 L550.8,277.37 L553.8,277.60 L556.8,277.83 L559.8,278.06 L562.8,278.30 L565.8,278.53 L568.8,278.76 L571.8,278.99 L574.8,279.22 L577.7,279.46 L580.7,279.69 L583.7,279.92 L586.7,280.16 L589.7,280.39 L592.7,280.63 L595.7,280.87 L598.7,281.11 L601.7,281.35 L604.7,281.59 L607.7,281.83 L610.7,282.07 L613.7,282.31 L616.7,282.54 L619.7,282.78 L622.7,283.02 L625.7,283.25 L628.7,283.48 L631.7,283.71 L634.7,283.94 L637.6,284.17 L640.6,284.39 L643.6,284.62 L646.6,284.84 L649.6,285.06 L652.6,285.27 L655.6,285.49 L658.6,285.70 L661.6,285.91 L664.6,286.12 L667.6,286.33 L670.6,286.54 L673.6,286.75 L676.6,286.95 L679.6,287.16 L682.6,287.36 L685.6,287.56 L688.6,287.77 L691.6,287.97 L694.6,288.17 L697.5,288.37 L700.5,288.56 L703.5,288.76 L706.5,288.96 L709.5,289.16 L712.5,289.35 L715.5,289.55 L718.5,289.74 L721.5,289.94 L724.5,290.14 L727.5,290.34 L730.5,290.54 L733.5,290.74 L736.5,290.95 L739.5,291.16 L742.5,291.38 L745.5,291.59 L748.5,291.82 L751.5,292.04 L754.5,292.28 L757.4,292.51 L760.4,292.76 L763.4,293.00 L766.4,293.25 L769.4,293.50 L772.4,293.76 L775.4,294.01 L778.4,294.27 L781.4,294.52 L784.4,294.78" fill="none" stroke="#2A7A32" stroke-width="1.65" stroke-linecap="butt" stroke-linejoin="round"/>
<path d="M71.6,311.17 L74.6,311.68 L77.6,312.20 L80.6,312.71 L83.6,313.22 L86.6,313.74 L89.6,314.26 L92.6,314.78 L95.6,315.31 L98.6,315.85 L101.5,316.39 L104.5,316.94 L107.5,317.49 L110.5,318.05 L113.5,318.63 L116.5,319.21 L119.5,319.80 L122.5,320.40 L125.5,321.02 L128.5,321.64 L131.5,322.29 L134.5,322.94 L137.5,323.61 L140.5,324.29 L143.5,324.99 L146.5,325.71 L149.5,326.44 L152.5,327.20 L155.5,327.96 L158.5,328.74 L161.4,329.53 L164.4,330.32 L167.4,331.10 L170.4,331.89 L173.4,332.66 L176.4,333.42 L179.4,334.17 L182.4,334.89 L185.4,335.59 L188.4,336.26 L191.4,336.90 L194.4,337.50 L197.4,338.08 L200.4,338.63 L203.4,339.16 L206.4,339.67 L209.4,340.17 L212.4,340.66 L215.4,341.15 L218.4,341.63 L221.3,342.12 L224.3,342.61 L227.3,343.11 L230.3,343.61 L233.3,344.11 L236.3,344.62 L239.3,345.12 L242.3,345.61 L245.3,346.10 L248.3,346.58 L251.3,347.05 L254.3,347.50 L257.3,347.94 L260.3,348.37 L263.3,348.78 L266.3,349.19 L269.3,349.58 L272.3,349.97 L275.3,350.36 L278.3,350.74 L281.2,351.12 L284.2,351.50 L287.2,351.88 L290.2,352.27 L293.2,352.65 L296.2,353.04 L299.2,353.42 L302.2,353.80 L305.2,354.17 L308.2,354.53 L311.2,354.89 L314.2,355.24 L317.2,355.58 L320.2,355.90 L323.2,356.22 L326.2,356.52 L329.2,356.82 L332.2,357.10 L335.2,357.37 L338.2,357.63 L341.1,357.88 L344.1,358.12 L347.1,358.34 L350.1,358.55 L353.1,358.74 L356.1,358.93 L359.1,359.10 L362.1,359.26 L365.1,359.41 L368.1,359.55 L371.1,359.69 L374.1,359.81 L377.1,359.93 L380.1,360.04 L383.1,360.15 L386.1,360.25 L389.1,360.34 L392.1,360.43 L395.1,360.51 L398.1,360.59 L401.0,360.66 L404.0,360.73 L407.0,360.80 L410.0,360.87 L413.0,360.93 L416.0,361.00 L419.0,361.07 L422.0,361.14 L425.0,361.21 L428.0,361.29 L431.0,361.37 L434.0,361.46 L437.0,361.55 L440.0,361.65 L443.0,361.75 L446.0,361.86 L449.0,361.97 L452.0,362.08 L455.0,362.19 L457.9,362.31 L460.9,362.43 L463.9,362.55 L466.9,362.67 L469.9,362.79 L472.9,362.92 L475.9,363.04 L478.9,363.17 L481.9,363.29 L484.9,363.41 L487.9,363.54 L490.9,363.66 L493.9,363.78 L496.9,363.90 L499.9,364.02 L502.9,364.14 L505.9,364.25 L508.9,364.36 L511.9,364.47 L514.9,364.58 L517.8,364.68 L520.8,364.78 L523.8,364.87 L526.8,364.96 L529.8,365.05 L532.8,365.13 L535.8,365.20 L538.8,365.27 L541.8,365.34 L544.8,365.39 L547.8,365.44 L550.8,365.49 L553.8,365.52 L556.8,365.55 L559.8,365.57 L562.8,365.59 L565.8,365.60 L568.8,365.61 L571.8,365.61 L574.8,365.60 L577.7,365.59 L580.7,365.58 L583.7,365.56 L586.7,365.53 L589.7,365.51 L592.7,365.48 L595.7,365.45 L598.7,365.41 L601.7,365.38 L604.7,365.34 L607.7,365.30 L610.7,365.25 L613.7,365.21 L616.7,365.16 L619.7,365.11 L622.7,365.06 L625.7,365.00 L628.7,364.95 L631.7,364.89 L634.7,364.84 L637.6,364.78 L640.6,364.72 L643.6,364.65 L646.6,364.58 L649.6,364.51 L652.6,364.43 L655.6,364.35 L658.6,364.26 L661.6,364.16 L664.6,364.06 L667.6,363.95 L670.6,363.84 L673.6,363.71 L676.6,363.58 L679.6,363.44 L682.6,363.29 L685.6,363.14 L688.6,362.98 L691.6,362.82 L694.6,362.65 L697.5,362.47 L700.5,362.30 L703.5,362.12 L706.5,361.94 L709.5,361.76 L712.5,361.57 L715.5,361.39 L718.5,361.20 L721.5,361.01 L724.5,360.82 L727.5,360.62 L730.5,360.43 L733.5,360.23 L736.5,360.03 L739.5,359.82 L742.5,359.62 L745.5,359.41 L748.5,359.19 L751.5,358.97 L754.5,358.75 L757.4,358.53 L760.4,358.30 L763.4,358.07 L766.4,357.84 L769.4,357.60 L772.4,357.37 L775.4,357.13 L778.4,356.89 L781.4,356.65 L784.4,356.41" fill="none" stroke="#3D9BE6" stroke-width="1.65" stroke-linecap="butt" stroke-linejoin="round"/>
<path d="M71.6,351.55 L74.6,352.31 L77.6,353.07 L80.6,353.83 L83.6,354.58 L86.6,355.33 L89.6,356.07 L92.6,356.80 L95.6,357.53 L98.6,358.24 L101.5,358.94 L104.5,359.63 L107.5,360.31 L110.5,360.96 L113.5,361.60 L116.5,362.23 L119.5,362.83 L122.5,363.41 L125.5,363.98 L128.5,364.54 L131.5,365.08 L134.5,365.63 L137.5,366.17 L140.5,366.71 L143.5,367.25 L146.5,367.81 L149.5,368.37 L152.5,368.95 L155.5,369.54 L158.5,370.14 L161.4,370.75 L164.4,371.35 L167.4,371.95 L170.4,372.54 L173.4,373.12 L176.4,373.68 L179.4,374.23 L182.4,374.75 L185.4,375.24 L188.4,375.70 L191.4,376.12 L194.4,376.51 L197.4,376.86 L200.4,377.19 L203.4,377.49 L206.4,377.76 L209.4,378.01 L212.4,378.25 L215.4,378.48 L218.4,378.69 L221.3,378.90 L224.3,379.10 L227.3,379.30 L230.3,379.50 L233.3,379.69 L236.3,379.88 L239.3,380.06 L242.3,380.24 L245.3,380.41 L248.3,380.57 L251.3,380.73 L254.3,380.88 L257.3,381.02 L260.3,381.15 L263.3,381.27 L266.3,381.39 L269.3,381.50 L272.3,381.60 L275.3,381.70 L278.3,381.79 L281.2,381.88 L284.2,381.96 L287.2,382.04 L290.2,382.11 L293.2,382.18 L296.2,382.25 L299.2,382.31 L302.2,382.37 L305.2,382.43 L308.2,382.49 L311.2,382.54 L314.2,382.59 L317.2,382.64 L320.2,382.69 L323.2,382.73 L326.2,382.77 L329.2,382.81 L332.2,382.84 L335.2,382.87 L338.2,382.90 L341.1,382.92 L344.1,382.94 L347.1,382.96 L350.1,382.97 L353.1,382.97 L356.1,382.97 L359.1,382.96 L362.1,382.93 L365.1,382.89 L368.1,382.82 L371.1,382.72 L374.1,382.60 L377.1,382.44 L380.1,382.27 L383.1,382.07 L386.1,381.87 L389.1,381.65 L392.1,381.43 L395.1,381.21 L398.1,380.98 L401.0,380.76 L404.0,380.54 L407.0,380.33 L410.0,380.13 L413.0,379.93 L416.0,379.75 L419.0,379.58 L422.0,379.43 L425.0,379.29 L428.0,379.18 L431.0,379.08 L434.0,379.01 L437.0,378.96 L440.0,378.93 L443.0,378.92 L446.0,378.94 L449.0,378.96 L452.0,379.01 L455.0,379.07 L457.9,379.15 L460.9,379.24 L463.9,379.35 L466.9,379.47 L469.9,379.60 L472.9,379.74 L475.9,379.89 L478.9,380.05 L481.9,380.21 L484.9,380.38 L487.9,380.56 L490.9,380.75 L493.9,380.93 L496.9,381.13 L499.9,381.32 L502.9,381.51 L505.9,381.71 L508.9,381.90 L511.9,382.09 L514.9,382.28 L517.8,382.47 L520.8,382.65 L523.8,382.83 L526.8,383.01 L529.8,383.19 L532.8,383.36 L535.8,383.53 L538.8,383.69 L541.8,383.85 L544.8,384.01 L547.8,384.16 L550.8,384.31 L553.8,384.46 L556.8,384.59 L559.8,384.73 L562.8,384.86 L565.8,385.00 L568.8,385.12 L571.8,385.25 L574.8,385.38 L577.7,385.51 L580.7,385.63 L583.7,385.76 L586.7,385.89 L589.7,386.02 L592.7,386.16 L595.7,386.29 L598.7,386.43 L601.7,386.57 L604.7,386.71 L607.7,386.85 L610.7,386.99 L613.7,387.13 L616.7,387.27 L619.7,387.41 L622.7,387.55 L625.7,387.68 L628.7,387.82 L631.7,387.95 L634.7,388.08 L637.6,388.21 L640.6,388.33 L643.6,388.46 L646.6,388.58 L649.6,388.70 L652.6,388.82 L655.6,388.94 L658.6,389.06 L661.6,389.18 L664.6,389.30 L667.6,389.42 L670.6,389.54 L673.6,389.66 L676.6,389.78 L679.6,389.90 L682.6,390.02 L685.6,390.14 L688.6,390.26 L691.6,390.38 L694.6,390.50 L697.5,390.62 L700.5,390.74 L703.5,390.85 L706.5,390.96 L709.5,391.08 L712.5,391.19 L715.5,391.30 L718.5,391.40 L721.5,391.51 L724.5,391.61 L727.5,391.71 L730.5,391.81 L733.5,391.90 L736.5,392.00 L739.5,392.09 L742.5,392.18 L745.5,392.26 L748.5,392.35 L751.5,392.43 L754.5,392.51 L757.4,392.58 L760.4,392.66 L763.4,392.73 L766.4,392.80 L769.4,392.87 L772.4,392.94 L775.4,393.01 L778.4,393.08 L781.4,393.14 L784.4,393.21" fill="none" stroke="#C8161E" stroke-width="1.65" stroke-linecap="butt" stroke-linejoin="round"/>
<path d="M71.6,368.83 L74.6,369.52 L77.6,370.21 L80.6,370.90 L83.6,371.58 L86.6,372.26 L89.6,372.94 L92.6,373.61 L95.6,374.27 L98.6,374.93 L101.5,375.57 L104.5,376.21 L107.5,376.84 L110.5,377.46 L113.5,378.07 L116.5,378.66 L119.5,379.24 L122.5,379.81 L125.5,380.36 L128.5,380.90 L131.5,381.43 L134.5,381.94 L137.5,382.45 L140.5,382.94 L143.5,383.43 L146.5,383.90 L149.5,384.37 L152.5,384.82 L155.5,385.27 L158.5,385.71 L161.4,386.14 L164.4,386.55 L167.4,386.96 L170.4,387.35 L173.4,387.72 L176.4,388.09 L179.4,388.43 L182.4,388.77 L185.4,389.08 L188.4,389.38 L191.4,389.66 L194.4,389.92 L197.4,390.16 L200.4,390.39 L203.4,390.60 L206.4,390.80 L209.4,390.99 L212.4,391.16 L215.4,391.33 L218.4,391.49 L221.3,391.63 L224.3,391.78 L227.3,391.91 L230.3,392.04 L233.3,392.16 L236.3,392.27 L239.3,392.37 L242.3,392.46 L245.3,392.54 L248.3,392.61 L251.3,392.67 L254.3,392.72 L257.3,392.75 L260.3,392.77 L263.3,392.77 L266.3,392.76 L269.3,392.73 L272.3,392.69 L275.3,392.62 L278.3,392.54 L281.2,392.44 L284.2,392.31 L287.2,392.16 L290.2,392.00 L293.2,391.81 L296.2,391.61 L299.2,391.40 L302.2,391.19 L305.2,390.97 L308.2,390.75 L311.2,390.54 L314.2,390.33 L317.2,390.13 L320.2,389.94 L323.2,389.76 L326.2,389.59 L329.2,389.42 L332.2,389.27 L335.2,389.12 L338.2,388.99 L341.1,388.87 L344.1,388.76 L347.1,388.66 L350.1,388.58 L353.1,388.51 L356.1,388.45 L359.1,388.40 L362.1,388.37 L365.1,388.34 L368.1,388.31 L371.1,388.28 L374.1,388.26 L377.1,388.23 L380.1,388.21 L383.1,388.19 L386.1,388.17 L389.1,388.15 L392.1,388.14 L395.1,388.13 L398.1,388.12 L401.0,388.12 L404.0,388.13 L407.0,388.14 L410.0,388.15 L413.0,388.17 L416.0,388.20 L419.0,388.24 L422.0,388.28 L425.0,388.34 L428.0,388.40 L431.0,388.47 L434.0,388.55 L437.0,388.64 L440.0,388.74 L443.0,388.84 L446.0,388.95 L449.0,389.07 L452.0,389.19 L455.0,389.32 L457.9,389.45 L460.9,389.58 L463.9,389.71 L466.9,389.84 L469.9,389.98 L472.9,390.11 L475.9,390.24 L478.9,390.38 L481.9,390.51 L484.9,390.63 L487.9,390.76 L490.9,390.88 L493.9,391.01 L496.9,391.12 L499.9,391.24 L502.9,391.35 L505.9,391.46 L508.9,391.56 L511.9,391.66 L514.9,391.76 L517.8,391.85 L520.8,391.93 L523.8,392.01 L526.8,392.08 L529.8,392.15 L532.8,392.21 L535.8,392.26 L538.8,392.31 L541.8,392.35 L544.8,392.38 L547.8,392.40 L550.8,392.41 L553.8,392.41 L556.8,392.41 L559.8,392.39 L562.8,392.36 L565.8,392.32 L568.8,392.27 L571.8,392.21 L574.8,392.13 L577.7,392.04 L580.7,391.94 L583.7,391.82 L586.7,391.69 L589.7,391.54 L592.7,391.37 L595.7,391.19 L598.7,390.99 L601.7,390.79 L604.7,390.57 L607.7,390.34 L610.7,390.11 L613.7,389.87 L616.7,389.62 L619.7,389.38 L622.7,389.13 L625.7,388.88 L628.7,388.63 L631.7,388.39 L634.7,388.14 L637.6,387.90 L640.6,387.66 L643.6,387.42 L646.6,387.17 L649.6,386.92 L652.6,386.66 L655.6,386.39 L658.6,386.11 L661.6,385.81 L664.6,385.51 L667.6,385.18 L670.6,384.84 L673.6,384.48 L676.6,384.10 L679.6,383.70 L682.6,383.29 L685.6,382.85 L688.6,382.41 L691.6,381.95 L694.6,381.47 L697.5,380.98 L700.5,380.48 L703.5,379.97 L706.5,379.44 L709.5,378.91 L712.5,378.36 L715.5,377.81 L718.5,377.25 L721.5,376.67 L724.5,376.09 L727.5,375.50 L730.5,374.90 L733.5,374.29 L736.5,373.67 L739.5,373.05 L742.5,372.41 L745.5,371.77 L748.5,371.12 L751.5,370.46 L754.5,369.79 L757.4,369.11 L760.4,368.43 L763.4,367.74 L766.4,367.05 L769.4,366.35 L772.4,365.65 L775.4,364.95 L778.4,364.24 L781.4,363.53 L784.4,362.83" fill="none" stroke="#14143C" stroke-width="1.65" stroke-linecap="butt" stroke-linejoin="round"/>
<path d="M71.6,385.50 L74.6,385.08 L77.6,384.67 L80.6,384.25 L83.6,383.83 L86.6,383.42 L89.6,383.00 L92.6,382.58 L95.6,382.17 L98.6,381.75 L101.5,381.33 L104.5,380.92 L107.5,380.50 L110.5,380.08 L113.5,379.67 L116.5,379.25 L119.5,378.83 L122.5,378.42 L125.5,378.00 L128.5,377.59 L131.5,377.19 L134.5,376.79 L137.5,376.40 L140.5,376.02 L143.5,375.65 L146.5,375.29 L149.5,374.94 L152.5,374.61 L155.5,374.30 L158.5,374.00 L161.4,373.71 L164.4,373.43 L167.4,373.17 L170.4,372.92 L173.4,372.68 L176.4,372.44 L179.4,372.22 L182.4,372.00 L185.4,371.79 L188.4,371.59 L191.4,371.39 L194.4,371.20 L197.4,371.01 L200.4,370.83 L203.4,370.65 L206.4,370.47 L209.4,370.30 L212.4,370.12 L215.4,369.96 L218.4,369.79 L221.3,369.62 L224.3,369.46 L227.3,369.30 L230.3,369.15 L233.3,369.00 L236.3,368.87 L239.3,368.75 L242.3,368.65 L245.3,368.56 L248.3,368.50 L251.3,368.46 L254.3,368.45 L257.3,368.47 L260.3,368.52 L263.3,368.60 L266.3,368.71 L269.3,368.86 L272.3,369.05 L275.3,369.27 L278.3,369.51 L281.2,369.79 L284.2,370.08 L287.2,370.39 L290.2,370.71 L293.2,371.04 L296.2,371.37 L299.2,371.71 L302.2,372.05 L305.2,372.39 L308.2,372.72 L311.2,373.04 L314.2,373.35 L317.2,373.64 L320.2,373.93 L323.2,374.20 L326.2,374.46 L329.2,374.70 L332.2,374.93 L335.2,375.14 L338.2,375.34 L341.1,375.51 L344.1,375.67 L347.1,375.82 L350.1,375.94 L353.1,376.05 L356.1,376.14 L359.1,376.22 L362.1,376.28 L365.1,376.32 L368.1,376.35 L371.1,376.36 L374.1,376.36 L377.1,376.35 L380.1,376.33 L383.1,376.30 L386.1,376.26 L389.1,376.21 L392.1,376.16 L395.1,376.11 L398.1,376.04 L401.0,375.97 L404.0,375.90 L407.0,375.81 L410.0,375.71 L413.0,375.60 L416.0,375.47 L419.0,375.34 L422.0,375.18 L425.0,375.01 L428.0,374.83 L431.0,374.62 L434.0,374.40 L437.0,374.15 L440.0,373.90 L443.0,373.63 L446.0,373.34 L449.0,373.05 L452.0,372.75 L455.0,372.44 L457.9,372.13 L460.9,371.82 L463.9,371.50 L466.9,371.19 L469.9,370.88 L472.9,370.57 L475.9,370.27 L478.9,369.97 L481.9,369.68 L484.9,369.39 L487.9,369.10 L490.9,368.82 L493.9,368.54 L496.9,368.26 L499.9,367.99 L502.9,367.73 L505.9,367.46 L508.9,367.20 L511.9,366.94 L514.9,366.69 L517.8,366.43 L520.8,366.18 L523.8,365.94 L526.8,365.69 L529.8,365.45 L532.8,365.21 L535.8,364.97 L538.8,364.73 L541.8,364.49 L544.8,364.26 L547.8,364.03 L550.8,363.80 L553.8,363.56 L556.8,363.34 L559.8,363.11 L562.8,362.89 L565.8,362.67 L568.8,362.46 L571.8,362.26 L574.8,362.07 L577.7,361.88 L580.7,361.71 L583.7,361.55 L586.7,361.40 L589.7,361.26 L592.7,361.14 L595.7,361.03 L598.7,360.94 L601.7,360.86 L604.7,360.79 L607.7,360.73 L610.7,360.69 L613.7,360.66 L616.7,360.64 L619.7,360.64 L622.7,360.65 L625.7,360.66 L628.7,360.69 L631.7,360.73 L634.7,360.78 L637.6,360.83 L640.6,360.90 L643.6,360.98 L646.6,361.06 L649.6,361.15 L652.6,361.25 L655.6,361.36 L658.6,361.47 L661.6,361.59 L664.6,361.71 L667.6,361.84 L670.6,361.97 L673.6,362.11 L676.6,362.25 L679.6,362.40 L682.6,362.56 L685.6,362.72 L688.6,362.89 L691.6,363.08 L694.6,363.27 L697.5,363.47 L700.5,363.69 L703.5,363.92 L706.5,364.17 L709.5,364.43 L712.5,364.70 L715.5,365.00 L718.5,365.30 L721.5,365.62 L724.5,365.96 L727.5,366.30 L730.5,366.66 L733.5,367.02 L736.5,367.40 L739.5,367.78 L742.5,368.17 L745.5,368.57 L748.5,368.97 L751.5,369.37 L754.5,369.78 L757.4,370.19 L760.4,370.61 L763.4,371.02 L766.4,371.44 L769.4,371.87 L772.4,372.29 L775.4,372.71 L778.4,373.14 L781.4,373.56 L784.4,373.99" fill="none" stroke="#EC4C1E" stroke-width="1.65" stroke-linecap="butt" stroke-linejoin="round"/>
<path d="M71.6,430.61 L74.6,430.61 L77.6,430.62 L80.6,430.63 L83.6,430.64 L86.6,430.65 L89.6,430.65 L92.6,430.66 L95.6,430.66 L98.6,430.67 L101.5,430.67 L104.5,430.67 L107.5,430.67 L110.5,430.66 L113.5,430.66 L116.5,430.65 L119.5,430.64 L122.5,430.63 L125.5,430.61 L128.5,430.60 L131.5,430.58 L134.5,430.55 L137.5,430.53 L140.5,430.50 L143.5,430.47 L146.5,430.43 L149.5,430.41 L152.5,430.38 L155.5,430.36 L158.5,430.35 L161.4,430.34 L164.4,430.34 L167.4,430.36 L170.4,430.38 L173.4,430.42 L176.4,430.48 L179.4,430.55 L182.4,430.64 L185.4,430.75 L188.4,430.88 L191.4,431.03 L194.4,431.21 L197.4,431.40 L200.4,431.61 L203.4,431.84 L206.4,432.07 L209.4,432.32 L212.4,432.57 L215.4,432.82 L218.4,433.07 L221.3,433.32 L224.3,433.56 L227.3,433.80 L230.3,434.03 L233.3,434.24 L236.3,434.44 L239.3,434.63 L242.3,434.79 L245.3,434.94 L248.3,435.08 L251.3,435.20 L254.3,435.31 L257.3,435.42 L260.3,435.51 L263.3,435.60 L266.3,435.68 L269.3,435.76 L272.3,435.83 L275.3,435.91 L278.3,435.98 L281.2,436.05 L284.2,436.11 L287.2,436.17 L290.2,436.23 L293.2,436.28 L296.2,436.32 L299.2,436.36 L302.2,436.39 L305.2,436.42 L308.2,436.43 L311.2,436.44 L314.2,436.44 L317.2,436.44 L320.2,436.43 L323.2,436.41 L326.2,436.39 L329.2,436.37 L332.2,436.34 L335.2,436.32 L338.2,436.30 L341.1,436.27 L344.1,436.26 L347.1,436.24 L350.1,436.23 L353.1,436.23 L356.1,436.23 L359.1,436.25 L362.1,436.27 L365.1,436.31 L368.1,436.35 L371.1,436.41 L374.1,436.48 L377.1,436.57 L380.1,436.66 L383.1,436.77 L386.1,436.88 L389.1,437.00 L392.1,437.13 L395.1,437.26 L398.1,437.39 L401.0,437.54 L404.0,437.69 L407.0,437.85 L410.0,438.02 L413.0,438.19 L416.0,438.38 L419.0,438.57 L422.0,438.77 L425.0,438.98 L428.0,439.21 L431.0,439.44 L434.0,439.69 L437.0,439.94 L440.0,440.20 L443.0,440.47 L446.0,440.75 L449.0,441.03 L452.0,441.31 L455.0,441.59 L457.9,441.88 L460.9,442.16 L463.9,442.45 L466.9,442.72 L469.9,443.00 L472.9,443.27 L475.9,443.53 L478.9,443.79 L481.9,444.03 L484.9,444.26 L487.9,444.49 L490.9,444.69 L493.9,444.89 L496.9,445.07 L499.9,445.24 L502.9,445.39 L505.9,445.54 L508.9,445.67 L511.9,445.79 L514.9,445.90 L517.8,446.01 L520.8,446.10 L523.8,446.18 L526.8,446.26 L529.8,446.32 L532.8,446.38 L535.8,446.43 L538.8,446.48 L541.8,446.52 L544.8,446.56 L547.8,446.59 L550.8,446.62 L553.8,446.64 L556.8,446.66 L559.8,446.67 L562.8,446.69 L565.8,446.70 L568.8,446.71 L571.8,446.71 L574.8,446.72 L577.7,446.72 L580.7,446.72 L583.7,446.72 L586.7,446.72 L589.7,446.72 L592.7,446.72 L595.7,446.72 L598.7,446.72 L601.7,446.72 L604.7,446.72 L607.7,446.72 L610.7,446.72 L613.7,446.73 L616.7,446.74 L619.7,446.74 L622.7,446.75 L625.7,446.76 L628.7,446.77 L631.7,446.78 L634.7,446.78 L637.6,446.79 L640.6,446.79 L643.6,446.79 L646.6,446.79 L649.6,446.79 L652.6,446.79 L655.6,446.78 L658.6,446.76 L661.6,446.75 L664.6,446.73 L667.6,446.70 L670.6,446.67 L673.6,446.64 L676.6,446.59 L679.6,446.55 L682.6,446.50 L685.6,446.44 L688.6,446.39 L691.6,446.32 L694.6,446.26 L697.5,446.19 L700.5,446.12 L703.5,446.04 L706.5,445.97 L709.5,445.89 L712.5,445.81 L715.5,445.72 L718.5,445.64 L721.5,445.56 L724.5,445.47 L727.5,445.38 L730.5,445.29 L733.5,445.21 L736.5,445.12 L739.5,445.03 L742.5,444.94 L745.5,444.86 L748.5,444.77 L751.5,444.68 L754.5,444.59 L757.4,444.50 L760.4,444.41 L763.4,444.32 L766.4,444.23 L769.4,444.15 L772.4,444.06 L775.4,443.97 L778.4,443.88 L781.4,443.79 L784.4,443.70" fill="none" stroke="#A2C84E" stroke-width="1.65" stroke-linecap="butt" stroke-linejoin="round"/>
<path d="M71.6,421.32 L74.6,421.67 L77.6,422.01 L80.6,422.36 L83.6,422.70 L86.6,423.04 L89.6,423.38 L92.6,423.72 L95.6,424.05 L98.6,424.38 L101.5,424.70 L104.5,425.01 L107.5,425.32 L110.5,425.63 L113.5,425.92 L116.5,426.21 L119.5,426.49 L122.5,426.77 L125.5,427.04 L128.5,427.30 L131.5,427.56 L134.5,427.81 L137.5,428.05 L140.5,428.29 L143.5,428.52 L146.5,428.75 L149.5,428.97 L152.5,429.19 L155.5,429.41 L158.5,429.62 L161.4,429.84 L164.4,430.04 L167.4,430.25 L170.4,430.46 L173.4,430.67 L176.4,430.87 L179.4,431.08 L182.4,431.29 L185.4,431.50 L188.4,431.71 L191.4,431.92 L194.4,432.13 L197.4,432.35 L200.4,432.56 L203.4,432.78 L206.4,432.99 L209.4,433.20 L212.4,433.42 L215.4,433.64 L218.4,433.85 L221.3,434.07 L224.3,434.28 L227.3,434.50 L230.3,434.71 L233.3,434.92 L236.3,435.14 L239.3,435.35 L242.3,435.56 L245.3,435.77 L248.3,435.99 L251.3,436.21 L254.3,436.43 L257.3,436.66 L260.3,436.89 L263.3,437.13 L266.3,437.38 L269.3,437.64 L272.3,437.91 L275.3,438.19 L278.3,438.48 L281.2,438.77 L284.2,439.07 L287.2,439.37 L290.2,439.67 L293.2,439.98 L296.2,440.27 L299.2,440.57 L302.2,440.86 L305.2,441.13 L308.2,441.40 L311.2,441.66 L314.2,441.91 L317.2,442.14 L320.2,442.36 L323.2,442.56 L326.2,442.75 L329.2,442.92 L332.2,443.07 L335.2,443.21 L338.2,443.33 L341.1,443.42 L344.1,443.50 L347.1,443.56 L350.1,443.59 L353.1,443.60 L356.1,443.59 L359.1,443.56 L362.1,443.51 L365.1,443.44 L368.1,443.35 L371.1,443.26 L374.1,443.15 L377.1,443.02 L380.1,442.90 L383.1,442.76 L386.1,442.62 L389.1,442.48 L392.1,442.34 L395.1,442.20 L398.1,442.07 L401.0,441.94 L404.0,441.81 L407.0,441.69 L410.0,441.57 L413.0,441.46 L416.0,441.36 L419.0,441.27 L422.0,441.19 L425.0,441.13 L428.0,441.07 L431.0,441.03 L434.0,441.00 L437.0,440.99 L440.0,440.99 L443.0,441.00 L446.0,441.03 L449.0,441.07 L452.0,441.13 L455.0,441.19 L457.9,441.28 L460.9,441.37 L463.9,441.48 L466.9,441.60 L469.9,441.73 L472.9,441.87 L475.9,442.02 L478.9,442.18 L481.9,442.34 L484.9,442.50 L487.9,442.65 L490.9,442.79 L493.9,442.92 L496.9,443.04 L499.9,443.15 L502.9,443.24 L505.9,443.33 L508.9,443.41 L511.9,443.48 L514.9,443.54 L517.8,443.59 L520.8,443.63 L523.8,443.67 L526.8,443.69 L529.8,443.72 L532.8,443.73 L535.8,443.74 L538.8,443.74 L541.8,443.74 L544.8,443.74 L547.8,443.73 L550.8,443.71 L553.8,443.70 L556.8,443.67 L559.8,443.65 L562.8,443.62 L565.8,443.59 L568.8,443.56 L571.8,443.52 L574.8,443.47 L577.7,443.43 L580.7,443.38 L583.7,443.33 L586.7,443.27 L589.7,443.21 L592.7,443.14 L595.7,443.07 L598.7,443.00 L601.7,442.92 L604.7,442.84 L607.7,442.76 L610.7,442.67 L613.7,442.58 L616.7,442.48 L619.7,442.38 L622.7,442.28 L625.7,442.17 L628.7,442.06 L631.7,441.95 L634.7,441.84 L637.6,441.72 L640.6,441.60 L643.6,441.48 L646.6,441.36 L649.6,441.24 L652.6,441.12 L655.6,441.00 L658.6,440.88 L661.6,440.76 L664.6,440.63 L667.6,440.51 L670.6,440.39 L673.6,440.27 L676.6,440.15 L679.6,440.04 L682.6,439.92 L685.6,439.80 L688.6,439.68 L691.6,439.57 L694.6,439.45 L697.5,439.33 L700.5,439.21 L703.5,439.10 L706.5,438.98 L709.5,438.86 L712.5,438.73 L715.5,438.61 L718.5,438.49 L721.5,438.36 L724.5,438.23 L727.5,438.10 L730.5,437.97 L733.5,437.83 L736.5,437.69 L739.5,437.56 L742.5,437.41 L745.5,437.27 L748.5,437.13 L751.5,436.98 L754.5,436.83 L757.4,436.68 L760.4,436.53 L763.4,436.38 L766.4,436.23 L769.4,436.08 L772.4,435.92 L775.4,435.77 L778.4,435.61 L781.4,435.46 L784.4,435.30" fill="none" stroke="#0C0C8A" stroke-width="1.65" stroke-linecap="butt" stroke-linejoin="round"/>
<path d="M71.6,427.32 L74.6,427.38 L77.5,427.44 L80.5,427.50 L83.4,427.55 L86.4,427.61 L89.4,427.66 L92.3,427.71 L95.3,427.76 L98.3,427.80 L101.2,427.84 L104.2,427.88 L107.1,427.91 L110.1,427.94 L113.1,427.95 L116.0,427.97 L119.0,427.97 L121.9,427.97 L124.9,427.96 L127.9,427.95 L130.8,427.92 L133.8,427.89 L136.7,427.86 L139.7,427.81 L142.7,427.76 L145.6,427.71 L148.6,427.65 L151.6,427.58 L154.5,427.51 L157.5,427.44 L160.4,427.36 L163.4,427.28 L166.4,427.19 L169.3,427.11 L172.3,427.02 L175.2,426.94 L178.2,426.86 L181.2,426.78 L184.1,426.70 L187.1,426.63 L190.0,426.57 L193.0,426.52 L196.0,426.47 L198.9,426.43 L201.9,426.41 L204.9,426.39 L207.8,426.40 L210.8,426.44 L213.7,426.51 L216.7,426.61 L219.7,426.76 L222.6,426.96 L225.6,427.21 L228.5,427.53 L231.5,427.91 L234.5,428.37 L237.4,428.91 L240.4,429.54 L243.3,430.27 L246.3,431.08 L249.3,431.97 L252.2,432.93 L255.2,433.95 L258.2,435.02 L261.1,436.14 L264.1,437.28 L267.0,438.44 L270.0,439.61" fill="none" stroke="#7479AC" stroke-width="1.65" stroke-linecap="butt" stroke-linejoin="round"/>
<path d="M71.6,430.41 L74.6,430.42 L77.6,430.42 L80.6,430.43 L83.6,430.44 L86.6,430.45 L89.6,430.45 L92.6,430.46 L95.6,430.46 L98.6,430.47 L101.5,430.47 L104.5,430.47 L107.5,430.47 L110.5,430.47 L113.5,430.46 L116.5,430.45 L119.5,430.44 L122.5,430.43 L125.5,430.41 L128.5,430.40 L131.5,430.37 L134.5,430.35 L137.5,430.32 L140.5,430.29 L143.5,430.26 L146.5,430.23 L149.5,430.19 L152.5,430.15 L155.5,430.12 L158.5,430.08 L161.4,430.03 L164.4,429.99 L167.4,429.95 L170.4,429.91 L173.4,429.87 L176.4,429.83 L179.4,429.79 L182.4,429.74 L185.4,429.71 L188.4,429.67 L191.4,429.63 L194.4,429.60 L197.4,429.56 L200.4,429.52 L203.4,429.49 L206.4,429.44 L209.4,429.40 L212.4,429.35 L215.4,429.29 L218.4,429.23 L221.3,429.15 L224.3,429.07 L227.3,428.98 L230.3,428.88 L233.3,428.76 L236.3,428.63 L239.3,428.48 L242.3,428.33 L245.3,428.16 L248.3,427.97 L251.3,427.78 L254.3,427.58 L257.3,427.38 L260.3,427.16 L263.3,426.95 L266.3,426.73 L269.3,426.50 L272.3,426.28 L275.3,426.06 L278.3,425.84 L281.2,425.61 L284.2,425.39 L287.2,425.17 L290.2,424.94 L293.2,424.72 L296.2,424.50 L299.2,424.27 L302.2,424.05 L305.2,423.83 L308.2,423.60 L311.2,423.38 L314.2,423.16 L317.2,422.94 L320.2,422.71 L323.2,422.50 L326.2,422.28 L329.2,422.07 L332.2,421.87 L335.2,421.67 L338.2,421.48 L341.1,421.29 L344.1,421.12 L347.1,420.95 L350.1,420.79 L353.1,420.65 L356.1,420.51 L359.1,420.39 L362.1,420.29 L365.1,420.20 L368.1,420.14 L371.1,420.10 L374.1,420.08 L377.1,420.09 L380.1,420.13 L383.1,420.18 L386.1,420.26 L389.1,420.36 L392.1,420.49 L395.1,420.63 L398.1,420.79 L401.0,420.96 L404.0,421.14 L407.0,421.33 L410.0,421.52 L413.0,421.72 L416.0,421.90 L419.0,422.09 L422.0,422.26 L425.0,422.42 L428.0,422.56 L431.0,422.69 L434.0,422.79 L437.0,422.87 L440.0,422.93 L443.0,422.98 L446.0,423.01 L449.0,423.02 L452.0,423.01 L455.0,422.99 L457.9,422.95 L460.9,422.90 L463.9,422.84 L466.9,422.77 L469.9,422.68 L472.9,422.59 L475.9,422.48 L478.9,422.37 L481.9,422.26 L484.9,422.14 L487.9,422.01 L490.9,421.89 L493.9,421.76 L496.9,421.64 L499.9,421.52 L502.9,421.40 L505.9,421.29 L508.9,421.18 L511.9,421.09 L514.9,421.00 L517.8,420.92 L520.8,420.85 L523.8,420.79 L526.8,420.75 L529.8,420.71 L532.8,420.68 L535.8,420.66 L538.8,420.65 L541.8,420.66 L544.8,420.67 L547.8,420.70 L550.8,420.73 L553.8,420.78 L556.8,420.84 L559.8,420.91 L562.8,420.99 L565.8,421.08 L568.8,421.18 L571.8,421.29 L574.8,421.41 L577.7,421.54 L580.7,421.67 L583.7,421.81 L586.7,421.96 L589.7,422.11 L592.7,422.27 L595.7,422.44 L598.7,422.61 L601.7,422.78 L604.7,422.96 L607.7,423.15 L610.7,423.33 L613.7,423.53 L616.7,423.72 L619.7,423.92 L622.7,424.12 L625.7,424.32 L628.7,424.52 L631.7,424.73 L634.7,424.94 L637.6,425.15 L640.6,425.36 L643.6,425.57 L646.6,425.79 L649.6,426.00 L652.6,426.22 L655.6,426.44 L658.6,426.66 L661.6,426.87 L664.6,427.09 L667.6,427.31 L670.6,427.53 L673.6,427.75 L676.6,427.97 L679.6,428.19 L682.6,428.41 L685.6,428.63 L688.6,428.84 L691.6,429.06 L694.6,429.29 L697.5,429.51 L700.5,429.73 L703.5,429.96 L706.5,430.18 L709.5,430.41 L712.5,430.64 L715.5,430.87 L718.5,431.10 L721.5,431.33 L724.5,431.57 L727.5,431.81 L730.5,432.05 L733.5,432.29 L736.5,432.54 L739.5,432.79 L742.5,433.04 L745.5,433.29 L748.5,433.55 L751.5,433.80 L754.5,434.06 L757.4,434.32 L760.4,434.58 L763.4,434.84 L766.4,435.11 L769.4,435.37 L772.4,435.63 L775.4,435.90 L778.4,436.16 L781.4,436.43 L784.4,436.69" fill="none" stroke="#EAA12A" stroke-width="1.65" stroke-linecap="butt" stroke-linejoin="round"/>
<line x1="33.8" x2="36" y1="460.0" y2="460.0" stroke="#888" stroke-width="0.9"/>
<text x="32.6" y="463.2" text-anchor="end" font-size="8.4" fill="#4D4D4D">0%</text>
<line x1="33.8" x2="36" y1="322.0" y2="322.0" stroke="#888" stroke-width="0.9"/>
<text x="32.6" y="325.2" text-anchor="end" font-size="8.4" fill="#4D4D4D">10%</text>
<line x1="33.8" x2="36" y1="184.0" y2="184.0" stroke="#888" stroke-width="0.9"/>
<text x="32.6" y="187.2" text-anchor="end" font-size="8.4" fill="#4D4D4D">20%</text>
<line x1="33.8" x2="36" y1="46.0" y2="46.0" stroke="#888" stroke-width="0.9"/>
<text x="32.6" y="49.2" text-anchor="end" font-size="8.4" fill="#4D4D4D">30%</text>
<line x1="502.5" x2="502.5" y1="476" y2="478" stroke="#999" stroke-width="0.9"/>
<text x="502.75" y="485.6" text-anchor="middle" font-size="8.2" fill="#4D4D4D">Jun 2012</text>
<rect x="831" y="150.70000000000002" width="17.399999999999977" height="190.2" fill="#F2F2F2"/>
<line x1="832.8" x2="847.2" y1="159.3" y2="159.3" stroke="#2158C2" stroke-width="2.7"/>
<text x="852.5" y="163.10000000000002" font-size="11" fill="#1A1A1A">ND</text>
<line x1="832.8" x2="847.2" y1="176.5" y2="176.5" stroke="#E0778A" stroke-width="2.7"/>
<text x="852.5" y="180.3" font-size="11" fill="#1A1A1A">SYRIZA</text>
<line x1="832.8" x2="847.2" y1="193.70000000000002" y2="193.70000000000002" stroke="#2A7A32" stroke-width="2.7"/>
<text x="852.5" y="197.50000000000003" font-size="11" fill="#1A1A1A">PASOK</text>
<line x1="832.8" x2="847.2" y1="210.9" y2="210.9" stroke="#3D9BE6" stroke-width="2.7"/>
<text x="852.5" y="214.70000000000002" font-size="11" fill="#1A1A1A">ANEL</text>
<line x1="832.8" x2="847.2" y1="228.10000000000002" y2="228.10000000000002" stroke="#C8161E" stroke-width="2.7"/>
<text x="852.5" y="231.90000000000003" font-size="11" fill="#1A1A1A">KKE</text>
<line x1="832.8" x2="847.2" y1="245.3" y2="245.3" stroke="#14143C" stroke-width="2.7"/>
<text x="852.5" y="249.10000000000002" font-size="11" fill="#1A1A1A">XA</text>
<line x1="832.8" x2="847.2" y1="262.5" y2="262.5" stroke="#EC4C1E" stroke-width="2.7"/>
<text x="852.5" y="266.3" font-size="11" fill="#1A1A1A">DIMAR</text>
<line x1="832.8" x2="847.2" y1="279.7" y2="279.7" stroke="#A2C84E" stroke-width="2.7"/>
<text x="852.5" y="283.5" font-size="11" fill="#1A1A1A">OP</text>
<line x1="832.8" x2="847.2" y1="296.9" y2="296.9" stroke="#0C0C8A" stroke-width="2.7"/>
<text x="852.5" y="300.7" font-size="11" fill="#1A1A1A">LAOS</text>
<line x1="832.8" x2="847.2" y1="314.1" y2="314.1" stroke="#7479AC" stroke-width="2.7"/>
<text x="852.5" y="317.90000000000003" font-size="11" fill="#1A1A1A">DISY</text>
<line x1="832.8" x2="847.2" y1="331.3" y2="331.3" stroke="#EAA12A" stroke-width="2.7"/>
<text x="852.5" y="335.1" font-size="11" fill="#1A1A1A">DIXA</text>
</svg></body></html>
